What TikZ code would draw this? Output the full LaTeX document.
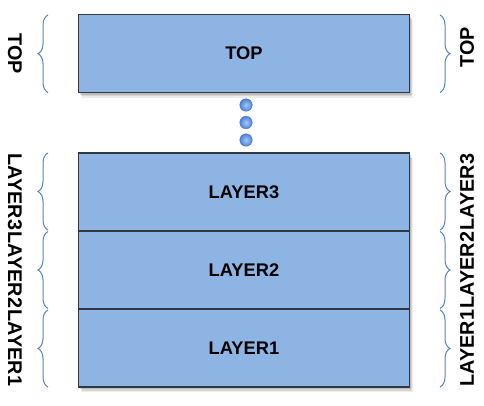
\documentclass[tikz,border=0pt]{standalone}
\usepackage{fontspec}
\setmainfont{Liberation Sans}
\usetikzlibrary{shadows,decorations.pathreplacing}
\definecolor{boxfill}{RGB}{141,180,226}
\definecolor{boxline}{RGB}{50,55,65}
\definecolor{bracecol}{RGB}{84,130,190}
\definecolor{dotin}{RGB}{165,200,250}
\definecolor{dotout}{RGB}{75,130,215}
\definecolor{dotline}{RGB}{70,115,190}
\tikzset{
  layerbox/.style={draw=boxline, line width=1.1pt, fill=boxfill,
    minimum width=331pt, minimum height=78pt, inner sep=0pt,
    font=\fontsize{18.3}{21}\selectfont\bfseries,
    general shadow={shadow xshift=1pt, shadow yshift=-2pt, fill=black, opacity=.12},
    general shadow={shadow xshift=2pt, shadow yshift=-3.5pt, fill=black, opacity=.10},
    general shadow={shadow xshift=3pt, shadow yshift=-5pt, fill=black, opacity=.07}},
  sidebrace/.style={draw=bracecol, line width=1pt,
    decorate, decoration={brace, amplitude=10pt}},
  sidelabel/.style={font=\fontsize{19.8}{22}\selectfont\bfseries, inner sep=0pt},
  ball/.style={circle, minimum size=12.5pt, inner sep=0pt, draw=dotline, line width=0.4pt,
    shading=radial, inner color=dotin, outer color=dotout}
}
\begin{document}
\begin{tikzpicture}[x=1pt,y=-1pt]
\useasboundingbox (0,0) rectangle (484,405);
% boxes
\node[layerbox] (top) at (244,53.5) {TOP};
\node[layerbox] (l3) at (244,192) {LAYER3};
\node[layerbox] (l2) at (244,270) {LAYER2};
\node[layerbox] (l1) at (244,348) {LAYER1};
% dots
\node[ball] (d1) at (246,105) {};
\node[ball] (d2) at (246,122.5) {};
\node[ball] (d3) at (246,140) {};
% left braces (drawn bottom to top)
\coordinate (lt0) at (48,92.5);  \coordinate (lt1) at (48,15);
\coordinate (l3a) at (48,230);   \coordinate (l3b) at (48,153);
\coordinate (l2a) at (48,308.5); \coordinate (l2b) at (48,231.5);
\coordinate (l1a) at (48,387);   \coordinate (l1b) at (48,310);
\draw[sidebrace] (lt0) -- (lt1);
\draw[sidebrace] (l3a) -- (l3b);
\draw[sidebrace] (l2a) -- (l2b);
\draw[sidebrace] (l1a) -- (l1b);
% right braces (drawn top to bottom)
\coordinate (rt0) at (440,15);    \coordinate (rt1) at (440,92.5);
\coordinate (r3a) at (440,153);   \coordinate (r3b) at (440,230);
\coordinate (r2a) at (440,231.5); \coordinate (r2b) at (440,308.5);
\coordinate (r1a) at (440,310);   \coordinate (r1b) at (440,387);
\draw[sidebrace] (rt0) -- (rt1);
\draw[sidebrace] (r3a) -- (r3b);
\draw[sidebrace] (r2a) -- (r2b);
\draw[sidebrace] (r1a) -- (r1b);
% labels
\node[sidelabel, rotate=-90] (ltl) at (15,53.5) {TOP};
\node[sidelabel, rotate=-90] (l3l) at (15,192) {LAYER3};
\node[sidelabel, rotate=-90] (l2l) at (15,270) {LAYER2};
\node[sidelabel, rotate=-90] (l1l) at (15,348) {LAYER1};
\node[sidelabel, rotate=90] (rtl) at (467,47.5) {TOP};
\node[sidelabel, rotate=90] (r3l) at (467,192) {LAYER3};
\node[sidelabel, rotate=90] (r2l) at (467,270) {LAYER2};
\node[sidelabel, rotate=90] (r1l) at (467,348) {LAYER1};
\end{tikzpicture}
\end{document}
